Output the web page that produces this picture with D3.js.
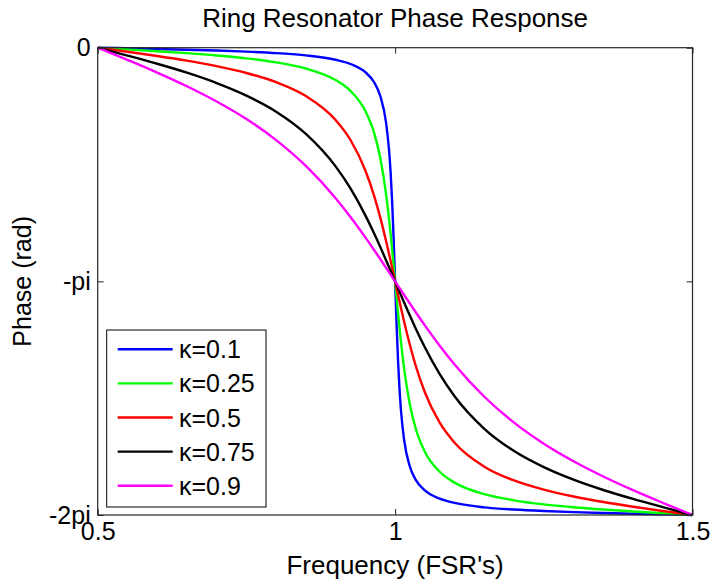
<!DOCTYPE html>
<html>
<head>
<meta charset="utf-8">
<script src="https://cdn.jsdelivr.net/npm/d3@7"></script>
<style>
  html, body { margin: 0; padding: 0; background: #fff; }
  svg { display: block; }
  text { font-family: "Liberation Sans", Arial, Helvetica, sans-serif; fill: #000; }
</style>
</head>
<body>
<svg id="chart" width="712" height="583"></svg>
<script>
// Normalised frequency (in FSRs)
const frequency = [
  0.5, 0.55, 0.6, 0.65, 0.7, 0.75, 0.8, 0.85, 0.9, 0.925, 0.95, 0.965, 0.975,
  0.985, 0.99, 0.9925, 0.995, 0.9975, 1, 1.0025, 1.005, 1.0075, 1.01, 1.015,
  1.025, 1.035, 1.05, 1.075, 1.1, 1.15, 1.2, 1.25, 1.3, 1.35, 1.4, 1.45, 1.5
];

// Through-port phase (rad) for each coupling value
const phaseK010 = [
  0, -0.008, -0.017, -0.027, -0.038, -0.053, -0.073, -0.103, -0.162, -0.219, -0.330, -0.468, -0.646,
  -1.018, -1.395, -1.682, -2.066, -2.562, -3.142, -3.721, -4.217, -4.601, -4.888, -5.265,
  -5.637, -5.815, -5.953, -6.064, -6.121, -6.180, -6.210, -6.230, -6.245, -6.256, -6.266, -6.275, -6.283
];
const phaseK025 = [
  0, -0.023, -0.047, -0.073, -0.104, -0.143, -0.197, -0.280, -0.435, -0.581, -0.851, -1.153, -1.479,
  -1.979, -2.316, -2.507, -2.711, -2.924, -3.142, -3.359, -3.572, -3.776, -3.967, -4.304,
  -4.804, -5.130, -5.432, -5.702, -5.848, -6.003, -6.086, -6.140, -6.179, -6.210, -6.236, -6.260, -6.283
];
const phaseK050 = [
  0, -0.054, -0.111, -0.174, -0.248, -0.340, -0.464, -0.650, -0.972, -1.241, -1.651, -1.998, -2.282,
  -2.605, -2.779, -2.869, -2.959, -3.050, -3.142, -3.233, -3.324, -3.414, -3.504, -3.678,
  -4.001, -4.285, -4.632, -5.042, -5.311, -5.633, -5.819, -5.943, -6.035, -6.109, -6.172, -6.229, -6.283
];
const phaseK075 = [
  0, -0.106, -0.216, -0.336, -0.475, -0.644, -0.860, -1.159, -1.596, -1.893, -2.255, -2.502, -2.678,
  -2.861, -2.954, -3.000, -3.047, -3.095, -3.142, -3.188, -3.236, -3.283, -3.329, -3.422,
  -3.605, -3.781, -4.028, -4.390, -4.687, -5.124, -5.423, -5.639, -5.808, -5.947, -6.067, -6.177, -6.283
];
const phaseK090 = [
  0, -0.164, -0.334, -0.518, -0.723, -0.959, -1.242, -1.590, -2.024, -2.276, -2.550, -2.723, -2.841,
  -2.961, -3.021, -3.051, -3.081, -3.111, -3.142, -3.172, -3.202, -3.232, -3.262, -3.322,
  -3.442, -3.560, -3.733, -4.007, -4.259, -4.693, -5.041, -5.324, -5.560, -5.765, -5.949, -6.119, -6.283
];

const seriesLabels = ["κ=0.1", "κ=0.25", "κ=0.5", "κ=0.75", "κ=0.9"];
const seriesColors = ["#0000ff", "#00ff00", "#ff0000", "#000000", "#ff00ff"];
const seriesValues = [phaseK010, phaseK025, phaseK050, phaseK075, phaseK090];

const xTicks = [0.5, 1, 1.5];
const xTickLabels = ["0.5", "1", "1.5"];
const yTicks = [0, -Math.PI, -2 * Math.PI];
const yTickLabels = ["0", "-pi", "-2pi"];

const titleText = "Ring Resonator Phase Response";
const xLabelText = "Frequency (FSR's)";
const yLabelText = "Phase (rad)";

// Layout
const plot = { left: 97.7, top: 47.7, right: 692.5, bottom: 515 };
const fontSize = 25;
const labelFontSize = 26;

const svg = d3.select("#chart");

const x = d3.scaleLinear().domain([0.5, 1.5]).range([plot.left, plot.right]);
const y = d3.scaleLinear().domain([-2 * Math.PI, 0]).range([plot.bottom, plot.top]);

// White plotting area
svg.append("rect")
  .attr("x", plot.left).attr("y", plot.top)
  .attr("width", plot.right - plot.left).attr("height", plot.bottom - plot.top)
  .attr("fill", "#fff");

// Curves, clipped to the plotting area
svg.append("clipPath").attr("id", "plotClip")
  .append("rect")
  .attr("x", plot.left).attr("y", plot.top - 2)
  .attr("width", plot.right - plot.left).attr("height", plot.bottom - plot.top + 4);

const line = d3.line()
  .x(d => x(d[0]))
  .y(d => y(d[1]))
  .curve(d3.curveMonotoneX);

const curves = svg.append("g").attr("clip-path", "url(#plotClip)");
seriesValues.forEach((vals, i) => {
  curves.append("path")
    .datum(frequency.map((f, j) => [f, vals[j]]))
    .attr("fill", "none")
    .attr("stroke", seriesColors[i])
    .attr("stroke-width", 2.4)
    .attr("stroke-linejoin", "round")
    .attr("d", line);
});

// Axes with inward ticks on all four sides
const tickLen = 6;
function styleAxis(g, showText) {
  g.select(".domain").remove();
  g.selectAll(".tick line").attr("stroke", "#262626").attr("stroke-width", 1);
  g.selectAll(".tick text")
    .attr("font-size", fontSize)
    .attr("fill", "#000")
    .style("font-family", "'Liberation Sans', Arial, sans-serif");
  if (!showText) g.selectAll(".tick text").remove();
}

svg.append("g")
  .attr("transform", `translate(0,${plot.bottom})`)
  .call(d3.axisBottom(x).tickValues(xTicks).tickSize(-tickLen).tickPadding(7)
    .tickFormat((d, i) => xTickLabels[i]))
  .call(g => styleAxis(g, true));

svg.append("g")
  .attr("transform", `translate(0,${plot.top})`)
  .call(d3.axisTop(x).tickValues(xTicks).tickSize(-tickLen))
  .call(g => styleAxis(g, false));

svg.append("g")
  .attr("transform", `translate(${plot.left},0)`)
  .call(d3.axisLeft(y).tickValues(yTicks).tickSize(-tickLen).tickPadding(7)
    .tickFormat((d, i) => yTickLabels[i]))
  .call(g => styleAxis(g, true));

svg.append("g")
  .attr("transform", `translate(${plot.right},0)`)
  .call(d3.axisRight(y).tickValues(yTicks).tickSize(-tickLen))
  .call(g => styleAxis(g, false));

// Box
svg.append("rect")
  .attr("x", plot.left).attr("y", plot.top)
  .attr("width", plot.right - plot.left).attr("height", plot.bottom - plot.top)
  .attr("fill", "none")
  .attr("stroke", "#262626")
  .attr("stroke-width", 1.2);

// Title and axis labels
svg.append("text")
  .attr("x", (plot.left + plot.right) / 2).attr("y", 27)
  .attr("text-anchor", "middle")
  .attr("font-size", labelFontSize)
  .text(titleText);

svg.append("text")
  .attr("x", (plot.left + plot.right) / 2).attr("y", 574)
  .attr("text-anchor", "middle")
  .attr("font-size", labelFontSize)
  .text(xLabelText);

svg.append("text")
  .attr("transform", `translate(31,${(plot.top + plot.bottom) / 2}) rotate(-90)`)
  .attr("text-anchor", "middle")
  .attr("font-size", fontSize)
  .text(yLabelText);

// Legend
const legend = { x: 106.7, y: 330, w: 159.3, h: 177, rowTop: 349.3, rowStep: 34.1 };
const lg = svg.append("g");
lg.append("rect")
  .attr("x", legend.x).attr("y", legend.y)
  .attr("width", legend.w).attr("height", legend.h)
  .attr("fill", "#fff")
  .attr("stroke", "#000")
  .attr("stroke-width", 1);

seriesLabels.forEach((lab, i) => {
  const cy = legend.rowTop + i * legend.rowStep;
  lg.append("line")
    .attr("x1", 117.7).attr("x2", 172.7)
    .attr("y1", cy).attr("y2", cy)
    .attr("stroke", seriesColors[i])
    .attr("stroke-width", 2.4);
  lg.append("text")
    .attr("x", 179).attr("y", cy)
    .attr("dy", "0.36em")
    .attr("font-size", fontSize)
    .text(lab);
});
</script>
</body>
</html>
